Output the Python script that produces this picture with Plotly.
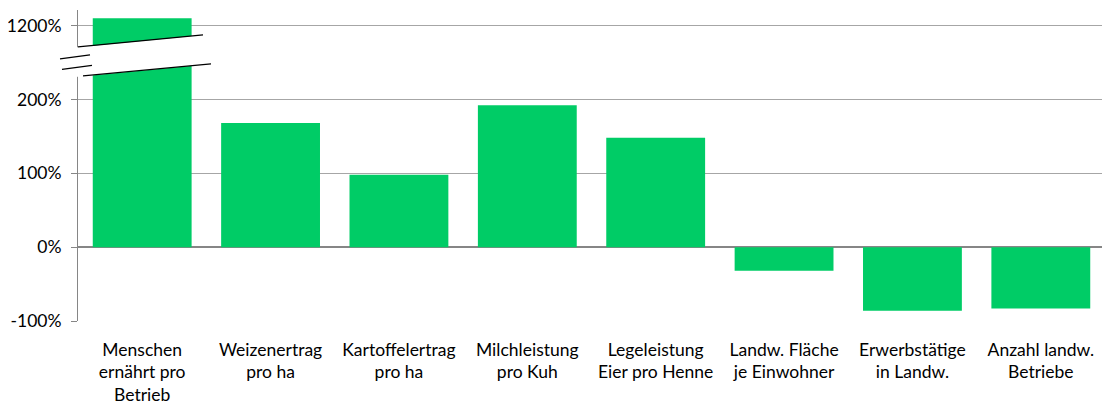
import plotly.graph_objects as go

categories = [
    "Menschen<br>ernährt pro<br>Betrieb",
    "Weizenertrag<br>pro ha",
    "Kartoffelertrag<br>pro ha",
    "Milchleistung<br>pro Kuh",
    "Legeleistung<br>Eier pro Henne",
    "Landw. Fläche<br>je Einwohner",
    "Erwerbstätige<br>in Landw.",
    "Anzahl landw.<br>Betriebe",
]
values = [1210, 168, 98, 192, 148, -32, -86, -83]  # percent change
tick_values = [-100, 0, 100, 200, 1200]
tick_labels = ["-100%", "0%", "100%", "200%", "1200%"]

BREAK_OFFSET = 900  # axis break: values above 250% are shown shifted down by 900


def to_axis(v):
    return v - BREAK_OFFSET if v > 250 else v


shown = [to_axis(v) for v in values]

# page body has an 8px margin; target coordinates are page pixels
OFF = 8
W, H = 1110 - OFF, 404 - OFF
L, R, T, B = 78 - OFF, 5, 10 - OFF, 82.5
pw, ph = W - L - R, H - T - B


def px(x):
    return (x - OFF - L) / pw


def py(y):
    return (H - B - (y - OFF)) / ph


fig = go.Figure(
    go.Bar(
        x=list(range(len(categories))),
        y=shown,
        marker=dict(color="#00CC66", line=dict(width=0)),
        customdata=values,
        hovertemplate="%{customdata}%<extra></extra>",
    )
)

font = dict(family="Lato, 'Open Sans', sans-serif", size=17.5, color="#000000")

fig.update_layout(
    width=W,
    height=H,
    margin=dict(l=L, r=R, t=T, b=B, autoexpand=False),
    paper_bgcolor="white",
    plot_bgcolor="white",
    bargap=0.23,
    showlegend=False,
    font=font,
    xaxis=dict(
        tickmode="array",
        tickvals=list(range(len(categories))),
        ticktext=categories,
        range=[-0.5, len(categories) - 0.5],
        showgrid=False,
        showline=False,
        ticks="",
        tickfont=font,
        zeroline=False,
        automargin=False,
        ticklabelstandoff=16,
    ),
    yaxis=dict(
        range=[-100, 321],
        tickmode="array",
        tickvals=[to_axis(v) for v in tick_values],
        ticktext=tick_labels,
        showgrid=True,
        gridcolor="#A6A6A6",
        gridwidth=1,
        zeroline=True,
        zerolinecolor="#868686",
        zerolinewidth=2,
        showline=True,
        linecolor="#868686",
        linewidth=1,
        ticks="outside",
        ticklen=6,
        tickcolor="#868686",
        tickfont=font,
        ticklabelstandoff=6,
        automargin=False,
    ),
)

# axis break: white band over the first bar and the y-axis, with slanted lines
band = (
    f"M {px(70)} {py(48)} L {px(203)} {py(35)} L {px(211)} {py(64)} "
    f"L {px(70)} {py(77.5)} Z"
)
fig.add_shape(type="path", path=band, xref="paper", yref="paper",
              fillcolor="white", line=dict(width=0), layer="above")
for (x0, y0, x1, y1) in [(78, 47, 203, 35), (83, 76, 211, 64),
                         (60, 59, 90, 55), (62, 69.5, 92, 65.5)]:
    fig.add_shape(type="line", xref="paper", yref="paper",
                  x0=px(x0), y0=py(y0), x1=px(x1), y1=py(y1),
                  line=dict(color="black", width=1.3), layer="above")

fig.write_html("out.html")
